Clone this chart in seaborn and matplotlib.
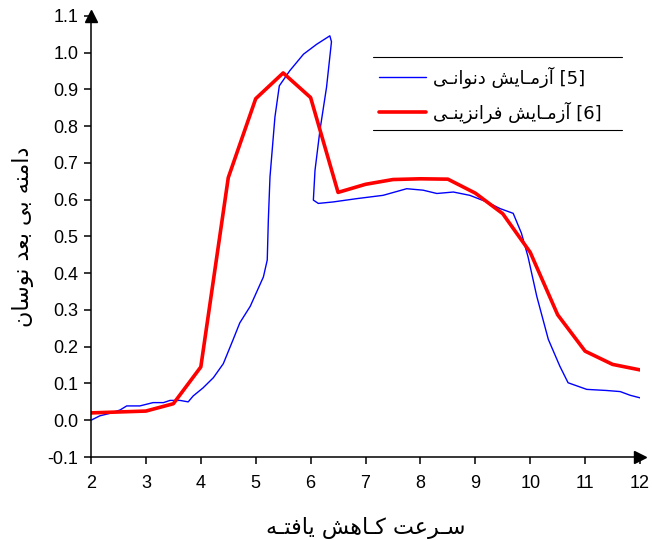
import numpy as np
import pandas as pd
import seaborn as sns
import matplotlib.pyplot as plt

# red curve (vertices)
red_x = [2, 3, 3.5, 4, 4.5, 5, 5.5, 6, 6.5, 7, 7.5, 8, 8.5, 9, 9.5, 10, 10.5, 11, 11.5, 12]
red_y = [0.02, 0.025, 0.045, 0.145, 0.66, 0.875, 0.945, 0.878, 0.62, 0.642, 0.655, 0.657,
         0.656, 0.618, 0.562, 0.457, 0.287, 0.188, 0.152, 0.137]

# blue curve (traced, note the loop back near x=6.3)
blue_x = [2.0, 2.16, 2.35, 2.53, 2.65, 2.89, 3.13, 3.32, 3.44, 3.62, 3.77, 3.86, 4.04, 4.23,
          4.41, 4.59, 4.71, 4.9, 5.14, 5.21, 5.23, 5.26, 5.35, 5.43, 5.62, 5.87, 6.11, 6.35,
          6.38, 6.29, 6.17, 6.08, 6.05, 6.14, 6.41, 6.84, 7.32, 7.75, 8.05, 8.3, 8.6, 8.9,
          9.21, 9.45, 9.69, 9.84, 9.96, 10.12, 10.33, 10.54, 10.69, 11.03, 11.39, 11.64,
          11.82, 12.0]
blue_y = [0.0, 0.012, 0.019, 0.028, 0.039, 0.039, 0.048, 0.048, 0.054, 0.054, 0.05, 0.066,
          0.088, 0.116, 0.154, 0.22, 0.265, 0.31, 0.39, 0.436, 0.545, 0.662, 0.825, 0.91,
          0.951, 0.996, 1.023, 1.046, 1.03, 0.906, 0.789, 0.68, 0.599, 0.59, 0.594, 0.603,
          0.612, 0.63, 0.626, 0.617, 0.621, 0.612, 0.594, 0.576, 0.563, 0.509, 0.445, 0.337,
          0.22, 0.147, 0.102, 0.084, 0.081, 0.078, 0.068, 0.061]

x_ticks = np.arange(2, 13, 1)
y_ticks = np.round(np.arange(-0.1, 1.15, 0.1), 1)

xlabel_fa = 'سـرعت کـاهش یافتـه'
ylabel_fa = 'دامنه بی بعد نوسان'
blue_label_fa = 'آزمـایش دنوانـی'
red_label_fa = 'آزمـایش فرانزینـی'

# presentation forms: isolated, final, initial, medial
FORMS = {
    'ا': (0xFE8D, 0xFE8E), 'آ': (0xFE81, 0xFE82),
    'ب': (0xFE8F, 0xFE90, 0xFE91, 0xFE92), 'ت': (0xFE95, 0xFE96, 0xFE97, 0xFE98),
    'د': (0xFEA9, 0xFEAA), 'ر': (0xFEAD, 0xFEAE), 'ز': (0xFEAF, 0xFEB0),
    'س': (0xFEB1, 0xFEB2, 0xFEB3, 0xFEB4), 'ش': (0xFEB5, 0xFEB6, 0xFEB7, 0xFEB8),
    'ع': (0xFEC9, 0xFECA, 0xFECB, 0xFECC), 'ف': (0xFED1, 0xFED2, 0xFED3, 0xFED4),
    'م': (0xFEE1, 0xFEE2, 0xFEE3, 0xFEE4), 'ن': (0xFEE5, 0xFEE6, 0xFEE7, 0xFEE8),
    'ه': (0xFEE9, 0xFEEA, 0xFEEB, 0xFEEC), 'و': (0xFEED, 0xFEEE),
    'ی': (0xFBFC, 0xFBFD, 0xFBFE, 0xFBFF), 'ک': (0xFB8E, 0xFB8F, 0xFB90, 0xFB91),
}
TATWEEL = 'ـ'


def fa(text):
    '''shape persian letters and put them in visual (left to right) order'''
    def joins_left(c):
        return c == TATWEEL or (c in FORMS and len(FORMS[c]) == 4)

    def joins_right(c):
        return c == TATWEEL or c in FORMS

    out = []
    for i, c in enumerate(text):
        if c not in FORMS:
            out.append(c)
            continue
        f = FORMS[c]
        prev_j = i > 0 and joins_left(text[i - 1])
        next_j = len(f) == 4 and i + 1 < len(text) and joins_right(text[i + 1])
        if prev_j and next_j:
            out.append(chr(f[3]))
        elif prev_j:
            out.append(chr(f[1]))
        elif next_j:
            out.append(chr(f[2]))
        else:
            out.append(chr(f[0]))
    return ''.join(out)[::-1]


sns.set_style('ticks')
plt.rcParams['font.family'] = ['Liberation Sans', 'DejaVu Sans']

fig = plt.figure(figsize=(6.52, 5.4), dpi=100)
ax = fig.add_axes([0.1396, 0.1537, 0.842, 0.8167])

sns.lineplot(x=blue_x, y=blue_y, sort=False, color='#0000FF', lw=1.0, ax=ax,
             label=fa(blue_label_fa) + ' [5]')
sns.lineplot(x=red_x, y=red_y, sort=False, color='#FF0000', lw=2.6, ax=ax,
             label=fa(red_label_fa) + ' [6]')

ax.set_xlim(2, 12)
ax.set_ylim(-0.1, 1.1)
ax.set_xticks(x_ticks)
ax.set_yticks(y_ticks)
ax.set_yticklabels(['%.1f' % v for v in y_ticks])
ax.tick_params(labelsize=13, length=5, width=1.1, color='black', labelcolor='black', pad=4)
ax.tick_params(axis='x', pad=8)
sns.despine(ax=ax)
for s in ('left', 'bottom'):
    ax.spines[s].set_linewidth(1.1)
    ax.spines[s].set_color('black')

# arrow heads on the axes
ax.plot(1, 0, '>k', ms=9, transform=ax.transAxes, clip_on=False)
ax.plot(0, 1, '^k', ms=9, transform=ax.transAxes, clip_on=False)

ax.set_xlabel(fa(xlabel_fa), fontsize=16, family=['DejaVu Sans'], labelpad=18, color='black')
ax.set_ylabel(fa(ylabel_fa), fontsize=16, family=['DejaVu Sans'], labelpad=10, color='black')

leg = ax.legend(loc='upper left', bbox_to_anchor=(0.495, 0.923), frameon=False,
                handlelength=2.6, handletextpad=0.4, labelspacing=0.75,
                prop={'family': ['DejaVu Sans'], 'size': 13})
for t in leg.get_texts():
    t.set_color('black')
# rules above and below the legend
ax.plot([0.514, 0.967], [0.907, 0.907], color='black', lw=0.8, transform=ax.transAxes, clip_on=False)
ax.plot([0.514, 0.967], [0.741, 0.741], color='black', lw=0.8, transform=ax.transAxes, clip_on=False)

fig.savefig('out.png', dpi=100)
